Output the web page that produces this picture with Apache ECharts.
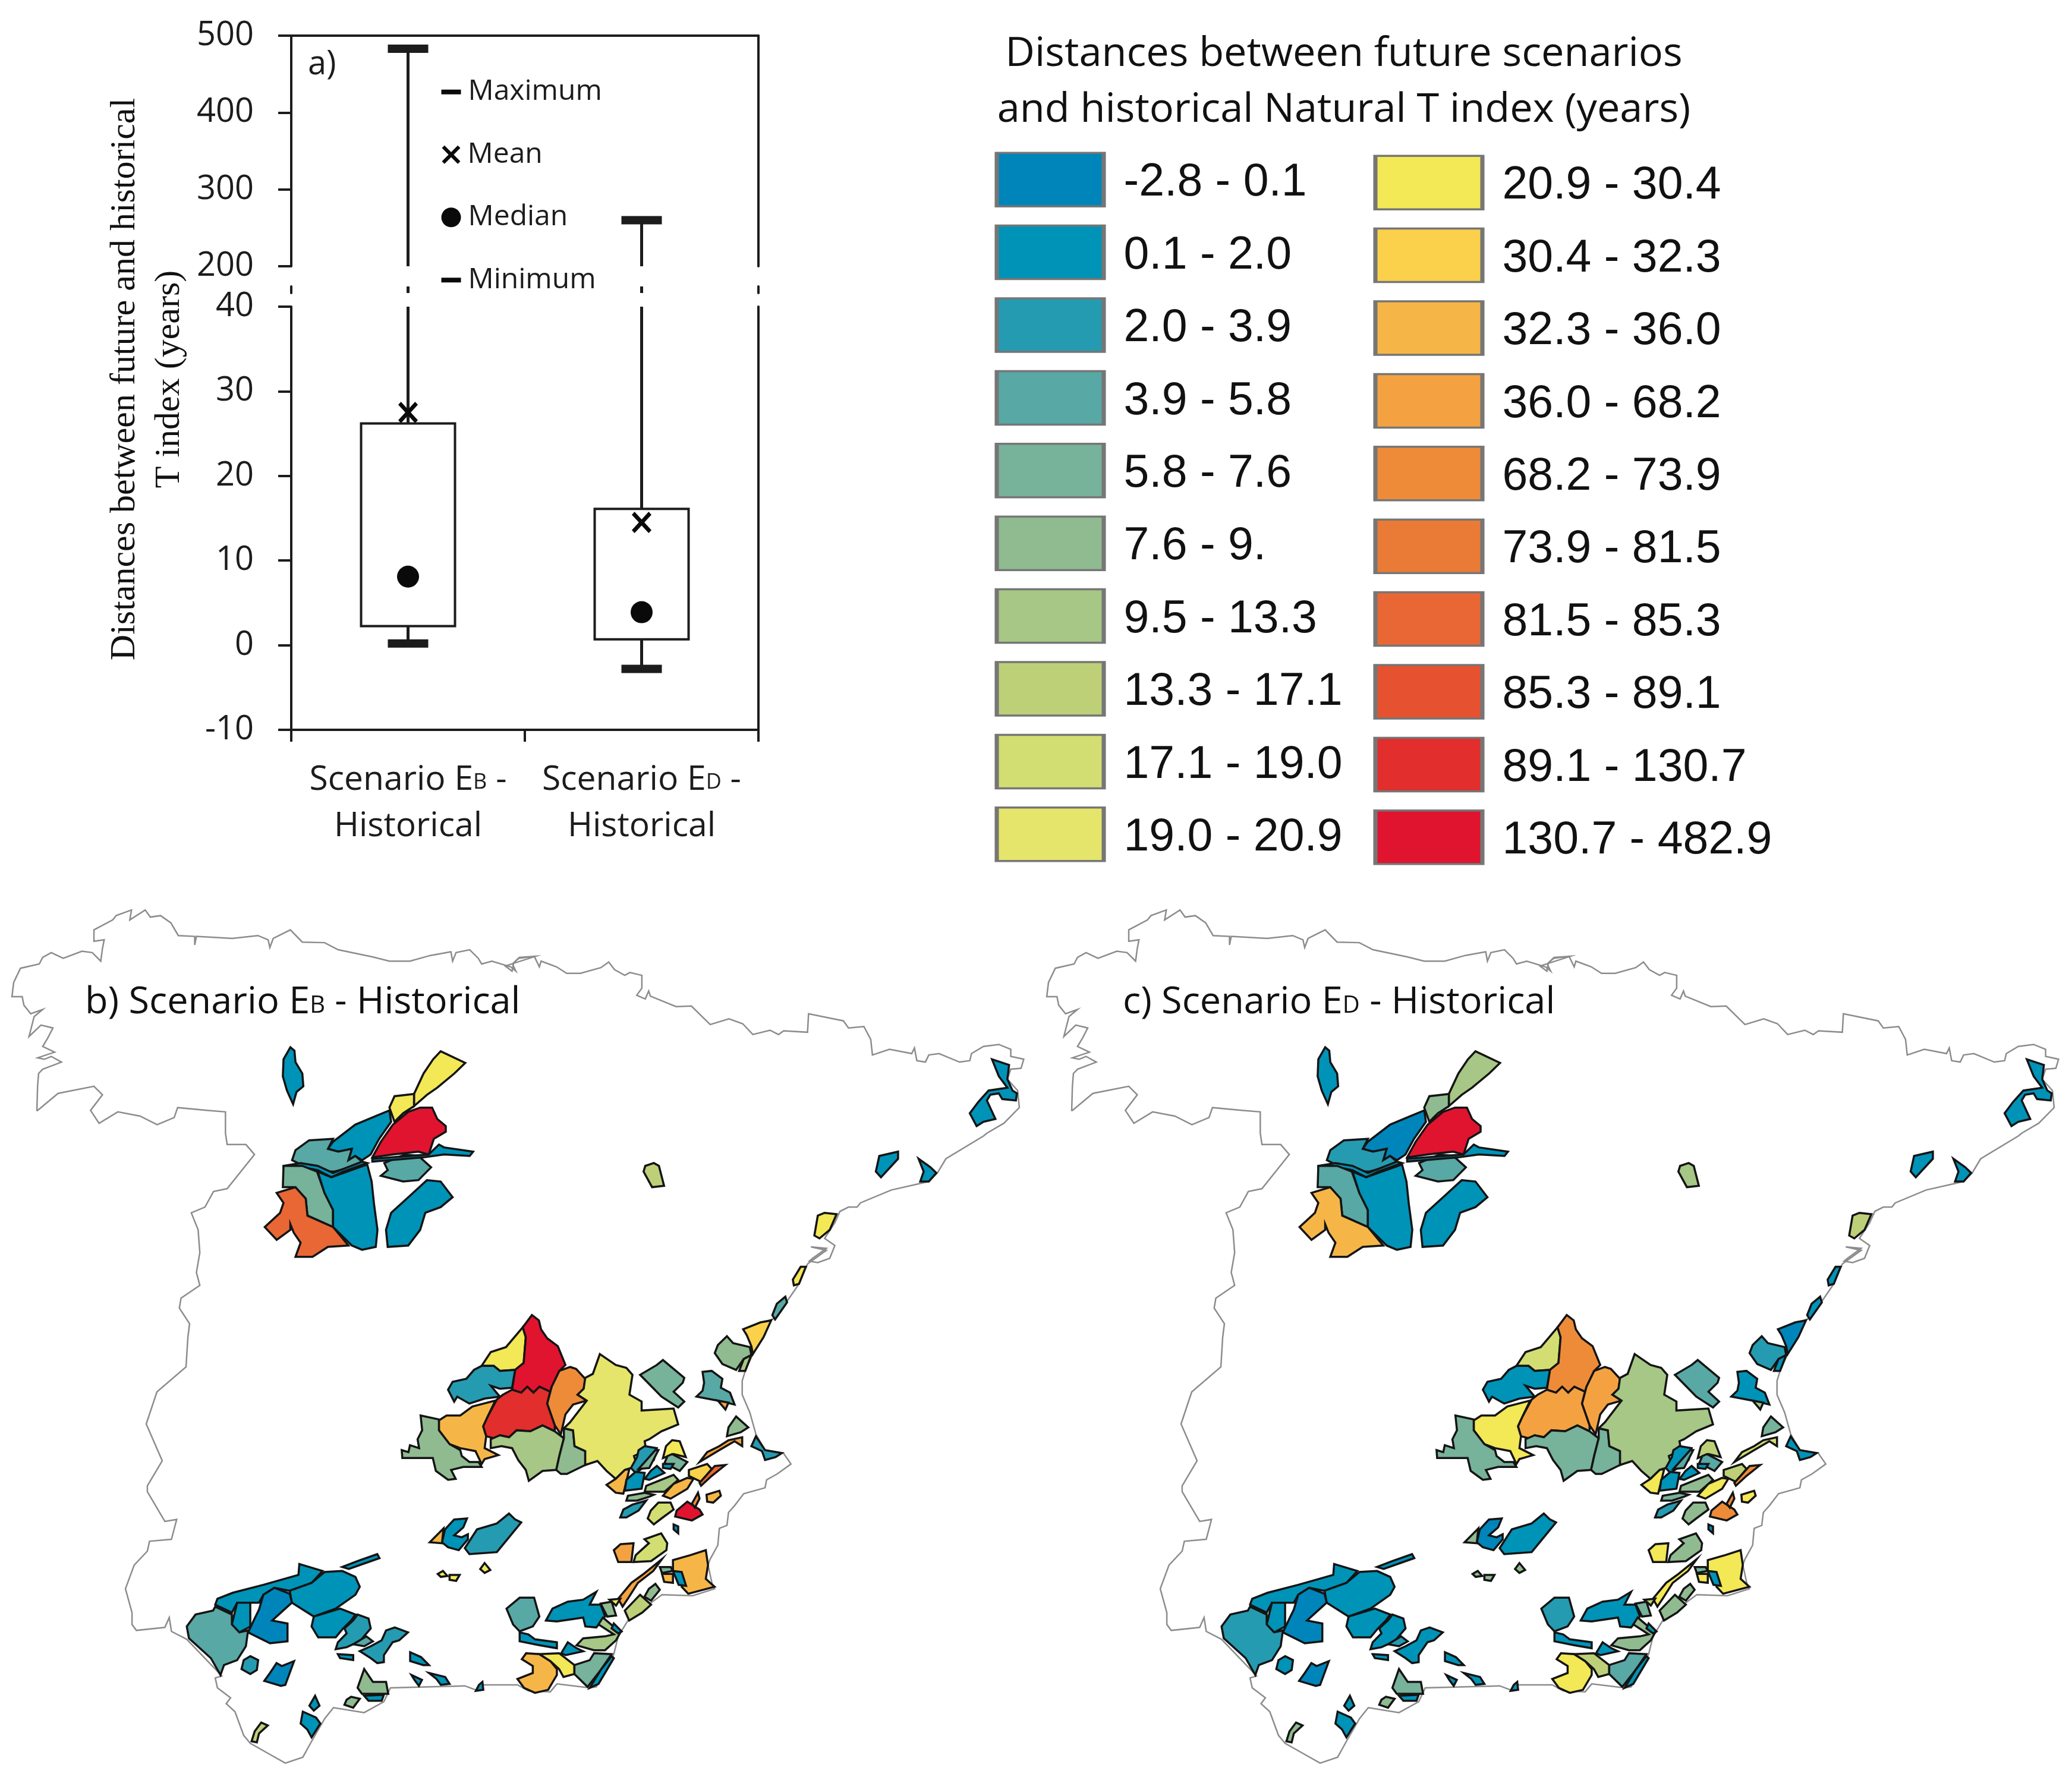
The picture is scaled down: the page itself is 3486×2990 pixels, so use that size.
<!DOCTYPE html>
<html>
<head>
<meta charset="utf-8">
<title>Natural T index distances</title>
<script src="https://cdn.jsdelivr.net/npm/echarts@6/dist/echarts.min.js"></script>
<style>
html, body { margin: 0; background: #fff; }
#main { width: 3486px; height: 2990px; }
</style>
</head>
<body>
<div id="main"></div>
<script>
// box plot values
const scenarios = ['EB', 'ED'];
const maximum = [482.9, 260];
const q3 = [26.2, 16.1];
const mean = [27.5, 14.5];
const median = [8.1, 3.9];
const q1 = [2.25, 0.7];
const minimum = [0.2, -2.8];
const keyNames = ['Maximum', 'Mean', 'Median', 'Minimum'];

// class bins, shared by the swatches and the maps
const binEdges = [-2.8, 0.1, 2.0, 3.9, 5.8, 7.6, 9.5, 13.3, 17.1, 19.0, 20.9, 30.4, 32.3, 36.0, 68.2, 73.9, 81.5, 85.3, 89.1, 130.7, 482.9];
const binLabels = ['-2.8 - 0.1', '0.1 - 2.0', '2.0 - 3.9', '3.9 - 5.8', '5.8 - 7.6', '7.6 - 9.', '9.5 - 13.3', '13.3 - 17.1', '17.1 - 19.0', '19.0 - 20.9',
  '20.9 - 30.4', '30.4 - 32.3', '32.3 - 36.0', '36.0 - 68.2', '68.2 - 73.9', '73.9 - 81.5', '81.5 - 85.3', '85.3 - 89.1', '89.1 - 130.7', '130.7 - 482.9'];
const binColors = ['#0085BB', '#0093B8', '#259BB1', '#58A8A5', '#77B29A', '#90BB90', '#A6C785', '#BDD078', '#D3DE72', '#E4E56A',
  '#F3E855', '#FBD14B', '#F6B647', '#F4A241', '#EE8B39', '#EA7B36', '#E86735', '#E65230', '#E22E2D', '#E0142F'];

// map outlines: frame + "x,y x,y ..."
const frames = { z3: [0, 1500, 1.74, 2.09], z4: [850, 1500, 1.74, 2.09], z5: [600, 2150, 1.95, 3], z6: [200, 2500, 1.357, 3], px: [0, 0, 1, 1] };
const outlineParts = [
  ['z3', '108,770 110,685 113,640 125,625 180,600 150,580 130,590 110,585 160,565 125,545 140,515 155,480 120,470 85,510 100,440 125,415 90,430 70,400 65,370 35,370 40,320 60,270 115,255 125,232 150,215 185,235 240,210 270,215 295,245 300,200 305,170 275,175 275,135 330,100 340,85 385,65 380,100 425,65 440,90 470,85 500,110 522,155 570,158 570,188 575,158 680,165 755,155 785,170 790,197 800,165 850,135 885,178 950,180 990,205 1090,230 1140,245 1200,245 1260,225 1320,212 1325,245 1335,215 1375,205 1400,235 1410,255 1440,245 1495,265 1510,280 1500,255 1520,232 1568,228'],
  ['z4', '0,262 20,280 25,250 40,235 85,228 100,265 105,245 150,265 180,288 220,288 280,268 303,248 320,275 350,295 365,285 400,295 400,340 385,365 410,378 420,350 425,368 500,405 545,403 600,468 655,448 695,465 725,503 775,488 800,503 815,490 885,495 888,430 990,455 1005,480 1050,475 1070,520 1075,575 1125,555 1190,570 1198,550 1205,595 1230,600 1240,575 1270,570 1330,600 1360,595 1365,570 1400,545 1445,538 1480,555 1480,580 1518,590 1510,622 1480,625 1470,660 1500,700 1505,760 1460,815 1410,850 1400,860 1290,940 1265,990 1240,1020 1130,1050 1040,1095 1030,1110 1005,1110 980,1125 965,1165 935,1220 965,1245 950,1290 915,1305 890,1300 900,1290 940,1255 895,1250 940,1262 885,1310 860,1380 820,1450 790,1500 770,1510'],
  ['z5', '1360,215 1300,385 1275,470 1265,520 1265,590 1290,680 1310,790 1340,870 1400,885 1425,940 1380,990 1345,1020 1340,1060 1270,1090 1240,1150 1220,1185 1215,1250 1190,1265 1185,1350 1160,1420'],
  ['z6', '1345,400 1355,500 1360,520 1310,555 1240,550 1215,590 1165,670 1140,760 1130,850 1090,1015 1075,1020 1000,1000 985,1040 935,1035 910,1005 830,1005 820,1035 790,1010 620,1020 605,1090 560,1145 490,1120 470,1175 440,1290 420,1370 380,1400 340,1350 300,1300 285,1260 265,1140 245,1100 255,1070 225,1020 220,970 235,960 155,775 120,735 115,665 105,715 40,730 30,700 30,640 15,520 35,400 65,330 70,280 120,270 132,170 105,180 65,30 65,0'],
  ['px', '273,2458 246,2396 264,2342 313,2300'],
  ['z3', '550,1568 555,1520 525,1465 530,1430 585,1385 575,1340 585,1270 580,1190 560,1130 600,1110 625,1055 665,1045 745,925 720,890 665,890 660,850 660,775 610,770 520,760 510,795 460,820 410,790 345,775 290,815 265,770 300,715 275,685 170,710 110,770']
];
const zoneShapes = [
  ['z3', '850,548 862,560 865,600 885,640 888,685 868,705 858,748 840,700 828,650 830,590'],
  ['z3', '1290,562 1362,603 1330,640 1280,690 1250,715 1212,755 1212,712 1240,640 1268,590'],
  ['z3', '1212,712 1212,755 1180,780 1155,810 1140,760 1155,720'],
  ['z3', '1195,775 1230,760 1265,760 1280,800 1305,825 1305,845 1270,870 1255,925 1225,915 1150,925 1090,935 1115,880 1150,820'],
  ['z3', '1140,770 1145,810 1110,870 1085,925 1060,945 1040,930 1020,945 1030,905 990,915 960,905 975,880 1040,820 1100,790'],
  ['z3', '905,875 975,870 960,905 990,915 1030,905 1020,945 1040,930 1060,950 1040,965 980,985 960,985 930,970 880,960 855,945 865,910'],
  ['z3', '830,965 880,955 930,965 975,990 1060,950 1075,955 1005,985 970,1005 930,980 880,968 830,970'],
  ['z3', '830,965 885,965 928,985 950,1060 975,1120 975,1180 900,1140 895,1080 860,1040 828,1040'],
  ['z3', '930,985 970,1005 1075,960 1088,1020 1095,1100 1105,1190 1100,1250 1060,1260 1030,1245 975,1180 975,1120 950,1060'],
  ['z3', '810,1060 865,1040 895,1080 900,1140 975,1180 1020,1245 960,1250 915,1285 865,1285 880,1235 860,1200 850,1170 850,1190 810,1225 775,1180 820,1130 830,1095'],
  ['z3', '1125,955 1185,925 1225,930 1262,970 1225,1015 1180,1020 1115,1000 1135,980'],
  ['z3', '1255,925 1285,890 1300,900 1385,915 1375,930 1300,925 1240,935 1090,950 1090,940'],
  ['z3', '1250,1015 1290,1020 1325,1075 1290,1110 1245,1130 1230,1190 1195,1245 1135,1250 1130,1190 1145,1130 1200,1070'],
  ['z4', '410,965 435,955 450,965 465,1035 430,1040 405,985'],
  ['z4', '1150,915 1150,940 1100,1005 1085,985 1095,930'],
  ['z4', '1210,940 1245,970 1262,990 1240,1020 1215,1020 1225,985'],
  ['z4', '1425,590 1475,610 1470,660 1485,700 1498,710 1495,735 1455,730 1445,710 1420,715 1410,735 1435,800 1400,810 1380,825 1360,780 1385,740 1415,700 1470,690 1445,650'],
  ['z4', '915,1140 935,1130 970,1135 950,1190 920,1220 905,1210'],
  ['z4', '865,1320 880,1320 860,1380 845,1385 842,1365'],
  ['z4', '820,1425 825,1445 790,1505 782,1490 795,1450'],
  ['z5', '545,250 555,300 548,430 520,465 470,470 450,445 410,445 440,375 490,350'],
  ['z5', '575,188 598,215 605,260 625,305 660,345 685,440 665,470 640,550 635,575 600,550 580,580 560,550 540,580 510,565 520,465 548,430 555,300 545,250'],
  ['z5', '410,445 450,445 470,470 520,465 510,555 470,560 440,545 470,600 420,610 370,635 330,600 320,625 300,565 315,525 360,510 385,465'],
  ['z5', '700,450 720,460 750,510 745,560 725,590 755,620 710,640 685,690 670,790 650,745 625,635 640,550 665,470'],
  ['z5', '510,565 540,580 560,550 580,580 600,550 635,575 625,635 650,745 650,775 610,745 570,775 525,770 500,805 470,795 450,810 425,800 415,750 430,700 460,615 480,590'],
  ['z5', '455,620 430,700 415,750 425,800 420,860 465,895 420,915 410,940 390,875 340,860 305,840 270,770 270,720 295,695 340,695 380,650'],
  ['z5', '210,695 270,715 270,770 305,840 340,870 345,900 370,930 400,930 410,955 350,955 310,970 325,1015 300,1020 260,975 250,910 150,910 148,870 170,880 175,845 205,860 200,815 215,770'],
  ['z5', '440,815 470,795 500,805 525,770 570,775 610,745 650,775 680,810 665,900 655,970 610,975 565,1025 555,970 530,920 510,860 475,850 440,860'],
  ['z5', '680,760 710,770 715,850 750,875 750,945 690,990 670,990 655,970 665,900 680,810'],
  ['z5', '798,385 850,440 885,455 905,490 895,590 935,625 935,670 1040,660 1055,740 1000,775 960,815 945,825 950,870 910,900 920,950 880,970 850,1015 820,975 790,925 750,945 750,875 715,850 710,770 680,760 700,730 755,620 725,590 745,560 750,505 775,485'],
  ['z5', '1005,415 1075,505 1070,530 1040,575 1075,625 1055,655 1000,600 975,560 930,490 985,440'],
  ['z5', '1135,475 1165,470 1200,510 1195,555 1225,580 1240,640 1185,620 1115,600 1135,570 1140,530'],
  ['z5', '1185,620 1220,630 1210,665'],
  ['z5', '1268,260 1325,225 1360,215 1335,300 1300,385 1295,345 1280,290'],
  ['z5', '1215,295 1235,330 1290,350 1295,390 1270,410 1245,465 1200,435 1175,380 1185,340'],
  ['z5', '1295,390 1275,470 1255,470 1270,410'],
  ['z5', '1245,700 1285,755 1260,780 1215,800 1220,755'],
  ['z5', '1310,800 1340,870 1395,885 1375,905 1340,920 1330,875 1295,850'],
  ['z5', '1265,805 1265,850 1240,825 1190,870 1125,930 1150,880 1190,850 1220,820'],
  ['z5', '945,850 985,860 975,920 950,950 915,985 900,960 920,905 925,870'],
  ['z5', '980,870 990,870 960,960 925,965'],
  ['z5', '880,970 895,965 875,1090 850,1085 820,1045 850,1015'],
  ['z5', '915,980 945,985 935,1065 880,1075 885,1020'],
  ['z5', '985,950 1010,985 960,1020 945,1015 965,975'],
  ['z5', '1035,820 1060,825 1080,905 1040,890 1005,910 1015,850'],
  ['z5', '1035,890 1085,930 1060,975 1010,935 1020,900'],
  ['z5', '1005,940 1040,940 1030,965 1005,960'],
  ['z5', '1090,970 1150,940 1165,965 1130,1030 1090,1000'],
  ['z5', '1210,945 1165,1000 1130,1050 1125,1035 1175,950'],
  ['z5', '1040,995 1055,1020 1010,1080 945,1080 950,1050'],
  ['z5', '1085,1010 1105,1015 1085,1065 1030,1115 1005,1100 1040,1040'],
  ['z5', '945,1085 975,1095 960,1105 920,1125 885,1125 890,1100'],
  ['z5', '950,1125 925,1175 885,1210 865,1210 875,1170 905,1145'],
  ['z5', '990,1135 1030,1135 1040,1170 1000,1215 975,1245 955,1215 965,1175'],
  ['z5', '1085,1130 1125,1170 1135,1195 1100,1225 1045,1205 1050,1175'],
  ['z5', '1120,1085 1125,1115 1110,1160 1100,1140'],
  ['z5', '1190,1075 1195,1100 1170,1135 1150,1130 1148,1095'],
  ['z5', '1040,1245 1055,1255 1055,1290 1040,1270'],
  ['z5', '320,1220 362,1215 350,1260 320,1300 345,1310 365,1295 365,1320 335,1375 300,1360 280,1335 290,1270'],
  ['z5', '285,1265 280,1340 240,1335'],
  ['z5', '500,1190 520,1220 540,1235 500,1310 460,1385 370,1395 355,1365 395,1270 460,1240'],
  ['z6', '835,390 848,425 835,440 825,420'],
  ['z6', '740,430 750,455 735,460 728,445'],
  ['z6', '755,450 778,450 770,480 755,475'],
  ['z6', '412,395 465,430 440,490 390,530 355,515 330,550 320,590 300,590 270,590 258,640 220,600 225,570 260,540 330,500 410,450'],
  ['z6', '590,345 595,365 525,420 510,410 545,380'],
  ['z6', '470,435 510,430 540,460 550,510 540,550 495,620 445,660 395,590 390,530 440,490'],
  ['z6', '355,515 390,545 395,590 350,680 385,695 385,785 345,795 295,740 310,670 320,625 330,550'],
  ['z6', '270,590 300,590 300,710 275,740 258,700'],
  ['z6', '220,610 258,650 258,700 275,740 295,730 290,810 270,880 240,905 232,955 210,870 160,770 155,710 175,650 215,630'],
  ['z6', '505,620 540,650 530,680 510,725 495,765 455,765 440,710 445,660'],
  ['z6', '545,650 570,670 575,720 550,785 520,815 495,825 500,790 520,745 515,720 535,680'],
  ['z6', '565,760 580,785 560,810 535,800'],
  ['z6', '630,715 660,740 640,780 625,790 605,855 605,890 590,895 575,870 550,835 575,810 600,780 610,730'],
  ['z6', '300,860 318,880 315,930 300,950 280,925 285,880'],
  ['z6', '400,885 380,1005 370,1010 332,985 345,945 360,895 372,910'],
  ['z6', '665,840 690,865 708,905 695,905 665,885'],
  ['z6', '500,850 535,855 535,880 505,870'],
  ['z6', '708,945 745,965 755,1000 735,1005 725,975'],
  ['z6', '668,955 692,980 685,1010 675,980'],
  ['z6', '830,990 832,1030 815,1035 822,1005'],
  ['z6', '560,925 580,990 610,990 615,1050 555,1050 545,1020'],
  ['z6', '560,1060 605,1055 600,1085 570,1085'],
  ['z6', '530,1065 550,1075 535,1120 515,1105 520,1080'],
  ['z6', '448,1060 458,1110 445,1135 435,1110'],
  ['z6', '420,1140 450,1170 460,1200 440,1270 430,1230 415,1200'],
  ['z6', '325,1195 340,1210 320,1250 315,1295 303,1290 310,1240'],
  ['z6', '915,565 948,565 960,660 945,710 915,735 900,700 885,620'],
  ['z6', '915,740 935,750 950,775 1000,790 1000,820 960,805 915,785'],
  ['z6', '1025,585 1060,575 1090,535 1075,600 1100,600 1110,660 1090,715 1065,710 1060,665 1000,685 975,680 990,620'],
  ['z6', '1100,595 1125,585 1135,655 1115,660'],
  ['z6', '1105,665 1145,740 1135,780 1110,830 1085,830 1045,805 1060,770 1110,760 1130,750 1095,700'],
  ['z6', '1130,695 1148,735 1140,745 1125,720'],
  ['z6', '1025,790 1045,820 1060,835 1020,855 1010,845'],
  ['z6', '930,845 960,850 985,885 1000,925 1000,955 980,1030 950,1045 925,1020 910,975 945,945 945,910 920,875'],
  ['z6', '960,850 1005,845 1040,905 1040,950 1015,965 1005,925 985,885'],
  ['z6', '1040,905 1075,880 1085,845 1125,850 1100,930 1070,1015 1040,950'],
  ['z6', '1125,860 1130,870 1095,1000 1075,1020 1100,930'],
  ['z6', '1238,240 1252,290 1250,325 1215,380 1175,385 1180,350 1210,290 1200,270'],
  ['z6', '1145,295 1175,290 1170,385 1140,385 1130,325'],
  ['z6', '1340,325 1345,400 1340,470 1360,510 1300,545 1285,510 1290,475 1265,430 1265,375 1305,350'],
  ['z6', '1240,370 1220,430 1185,490 1165,560 1150,610 1140,570 1170,490 1195,450'],
  ['z6', '1235,410 1260,410 1265,430 1240,440'],
  ['z6', '1265,430 1285,435 1295,505 1278,500'],
  ['z6', '1240,445 1265,445 1265,490 1245,485'],
  ['z6', '1225,495 1235,525 1215,580 1200,560 1210,520'],
  ['z6', '1190,550 1215,600 1195,640 1165,680 1155,630'],
  ['z6', '1120,575 1145,570 1135,605']
];
const zoneValuesB = [1, 25, 25, 200, 1, 5, 1, 7, 1, 83, 5, 1, 1, 15, 1, 1, 1, 25, 25, 5,
  25, 200, 3, 70, 100, 34, 8, 10, 8, 20, 7, 5, 50, 31, 8, 10, 8, 3, 50, 3, 7, 34, 1, 1, 25, 7, 1, 31, 83, 10, 34, 8, 3, 18, 200, 70, 34, -1, 1, 34, 3,
  25, 25, 25, 1, 1, 1, -1, 1, 5, 1, 3, 5, 3, 3, -1, 1, 1, 1, 1, 1, 8, 1, 8, 1, 1, 15, 5, 1, 1, 8, 10, 1, 1, 34, 25, 7, 1, 18, 50, 34, 50, 7, 1, 34, 8, 15, 25];
const zoneValuesC = [1, 10, 8, 200, -1, 3, 1, 5, 1, 34, 5, 1, 1, 10, 1, 1, 1, 15, 1, 1,
  18, 70, 1, 50, 50, 25, 7, 7, 7, 10, 5, 1, 10, -1, 3, 1, 7, 1, 18, 1, 5, 25, 1, 1, 15, 5, 1, 15, 70, 8, 25, 7, 3, 8, 70, 70, 25, -1, -1, 8, 1,
  8, 8, 8, 1, 1, 1, -1, 1, 3, 1, 1, 3, 1, 1, -1, 1, 1, 1, 1, 1, 7, 1, 8, 1, 1, 8, 3, 1, 1, 7, 8, 1, 1, 25, 15, 5, 1, 8, 25, 25, 25, 7, 1, 25, 8, 8, 15];

const tickFont = 'Open Sans';
const inkColor = '#1c1c1c';
const mapOffset = 1741;

const crossSymbol = 'path://M14,0 L50,36 86,0 100,14 64,50 100,86 86,100 50,64 14,100 0,86 36,50 0,14Z';

// turn traced points into picture pixels, y negated because map regions are y-up
function toPoints(frame, text) {
  const [ox, oy, sx, sy] = frames[frame];
  return text.trim().split(/\s+/).map(p => {
    const [x, y] = p.split(',').map(Number);
    return [ox + x / sx, -(oy + y / sy)];
  });
}
function closeRing(ring) {
  return ring.concat([ring[0]]);
}

const outlineRing = closeRing(outlineParts.flatMap(([f, t]) => toPoints(f, t)));
const zoneRings = zoneShapes.map(([f, t]) => closeRing(toPoints(f, t)));
const zoneNames = zoneShapes.map((s, i) => 'zone' + i);

const feature = (name, ring) => ({
  type: 'Feature',
  properties: { name },
  geometry: { type: 'Polygon', coordinates: [ring] }
});
const iberiaFeatures = {
  type: 'FeatureCollection',
  features: [feature('Iberia', outlineRing)].concat(zoneRings.map((r, i) => feature(zoneNames[i], r)))
};
// two names: map series sharing one map get merged by ECharts
echarts.registerMap('iberiaEB', iberiaFeatures);
echarts.registerMap('iberiaED', iberiaFeatures);

const allPoints = outlineRing.concat(zoneRings.flat());
const mapLeft = Math.min(...allPoints.map(p => p[0]));
const mapRight = Math.max(...allPoints.map(p => p[0]));
const mapTop = Math.min(...allPoints.map(p => -p[1]));
const mapBottom = Math.max(...allPoints.map(p => -p[1]));

function mapSeries(mapName, values, shift) {
  return {
    type: 'map',
    map: mapName,
    silent: true,
    roam: false,
    aspectScale: 1,
    left: mapLeft + shift,
    top: mapTop,
    width: mapRight - mapLeft,
    height: mapBottom - mapTop,
    label: { show: false },
    itemStyle: { areaColor: '#fff', borderColor: '#141414', borderWidth: 3.5 },
    data: [{
      name: 'Iberia',
      value: NaN,
      itemStyle: { areaColor: '#fff', borderColor: '#8c8c8c', borderWidth: 2.5 }
    }].concat(zoneNames.map((name, i) => ({ name, value: values[i] })))
  };
}

// box + whiskers, clipped by whichever piece of the broken axis it sits on
function renderBox(params, api) {
  const idx = api.value(0);
  const cx = api.coord([idx, 0])[0];
  const y = i => api.coord([idx, api.value(i)])[1];
  const boxW = 158;
  const stroke = { stroke: inkColor, lineWidth: 5 };
  const children = [
    { type: 'line', shape: { x1: cx, y1: y(3), x2: cx, y2: y(4) }, style: stroke },
    { type: 'line', shape: { x1: cx, y1: y(2), x2: cx, y2: y(1) }, style: stroke }
  ];
  const rect = params.coordSys;
  // the box only exists on the lower piece of the axis
  if (y(3) >= rect.y && y(2) <= rect.y + rect.height) {
    children.push({
      type: 'rect',
      shape: { x: cx - boxW / 2, y: y(3), width: boxW, height: y(2) - y(3) },
      style: { fill: '#fff', stroke: inkColor, lineWidth: 4 }
    });
  }
  return { type: 'group', children };
}
const boxData = scenarios.map((s, i) => [i, minimum[i], q1[i], q3[i], maximum[i]]);
const boxSeries = (xAxisIndex, yAxisIndex) => ({
  type: 'custom',
  xAxisIndex,
  yAxisIndex,
  clip: true,
  silent: true,
  renderItem: renderBox,
  encode: { x: 0, y: [1, 2, 3, 4] },
  data: boxData
});
const capSeries = (xAxisIndex, yAxisIndex, values) => ({
  type: 'scatter',
  xAxisIndex,
  yAxisIndex,
  clip: false,
  silent: true,
  symbol: 'rect',
  symbolSize: [68, 14],
  itemStyle: { color: inkColor, opacity: 1 },
  data: values.map((v, i) => [i, v])
});

const plotLeft = 490;
const plotWidth = 786;
const lineStyle = { color: inkColor, width: 4 };

function plotYAxis(gridIndex, min, max, interval, withLabels) {
  return {
    type: 'value',
    gridIndex,
    min,
    max,
    interval,
    position: withLabels ? 'left' : 'right',
    splitLine: { show: false },
    axisLine: { show: true, lineStyle },
    axisTick: { show: withLabels, length: 22, lineStyle },
    axisLabel: { show: withLabels, margin: 63, fontFamily: tickFont, fontSize: 56, color: inkColor }
  };
}
function hiddenY(gridIndex, data) {
  return {
    type: 'category',
    gridIndex,
    inverse: true,
    data,
    axisLine: { show: false },
    axisTick: { show: false },
    axisLabel: { show: false },
    splitLine: { show: false }
  };
}
function hiddenX(gridIndex) {
  return {
    type: 'category',
    gridIndex,
    data: ['x'],
    axisLine: { show: false },
    axisTick: { show: false },
    axisLabel: { show: false },
    splitLine: { show: false }
  };
}
function swatchSeries(xAxisIndex, yAxisIndex, labels, colors) {
  return {
    type: 'scatter',
    xAxisIndex,
    yAxisIndex,
    silent: true,
    symbol: 'rect',
    symbolSize: [180, 90],
    data: labels.map((name, i) => ({
      value: ['x', i],
      itemStyle: { color: colors[i], opacity: 1, borderColor: '#767676', borderWidth: 5 },
      label: { formatter: name }
    })),
    label: {
      show: true,
      position: 'right',
      distance: 30,
      offset: [0, 6],
      fontFamily: 'Liberation Sans',
      fontSize: 77,
      color: '#111'
    }
  };
}
function mapTitle(left, text) {
  return {
    text,
    left,
    top: 1656,
    padding: 0,
    textStyle: {
      rich: {
        m: { fontFamily: tickFont, fontWeight: 'normal', fontSize: 63, color: '#111' },
        s: { fontFamily: tickFont, fontWeight: 'normal', fontSize: 40, color: '#111', padding: [10, 0, 0, 0] }
      }
    }
  };
}
const subscriptRich = {
  m: { fontFamily: tickFont, fontSize: 57, color: inkColor, lineHeight: 78 },
  s: { fontFamily: tickFont, fontSize: 36, color: inkColor, lineHeight: 78, padding: [8, 0, 0, 0] }
};

const keySymbols = [
  { symbol: 'rect', symbolSize: [33, 8] },
  { symbol: crossSymbol, symbolSize: [31, 31] },
  { symbol: 'circle', symbolSize: [33, 33] },
  { symbol: 'rect', symbolSize: [33, 8] }
];

const option = {
  animation: false,
  backgroundColor: '#fff',
  title: [
    { text: 'a)', left: 513, top: 76, textStyle: { fontFamily: tickFont, fontSize: 56, fontWeight: 'normal', color: inkColor } },
    {
      text: 'Distances between future scenarios\nand historical Natural T index (years)',
      left: 2256,
      top: 39,
      textAlign: 'center',
      textStyle: { fontFamily: tickFont, fontSize: 68.5, fontWeight: 'normal', color: '#111', lineHeight: 94 }
    },
    mapTitle(143, '{m|b) Scenario E}{s|B}{m| - Historical}'),
    mapTitle(1889, '{m|c) Scenario E}{s|D}{m| - Historical}')
  ],
  graphic: [{
    type: 'text',
    x: 248,
    y: 638,
    rotation: Math.PI / 2,
    style: {
      text: 'Distances between future and historical\nT index (years)',
      fontFamily: 'Liberation Serif',
      fontSize: 60,
      lineHeight: 75,
      align: 'center',
      verticalAlign: 'middle',
      fill: '#111'
    }
  }],
  grid: [
    { left: plotLeft, top: 60, width: plotWidth, height: 388 },
    { left: plotLeft, top: 482, width: plotWidth, height: 11 },
    { left: plotLeft, top: 516, width: plotWidth, height: 712 },
    { left: 1677, top: 241, width: 180, height: 1224 },
    { left: 2314, top: 246, width: 180, height: 1224 },
    { left: 739, top: 102, width: 40, height: 422 }
  ],
  xAxis: [
    {
      type: 'category', gridIndex: 0, data: scenarios, position: 'top',
      axisLine: { show: true, lineStyle }, axisTick: { show: false }, axisLabel: { show: false }
    },
    {
      type: 'category', gridIndex: 1, data: scenarios,
      axisLine: { show: false }, axisTick: { show: false }, axisLabel: { show: false }
    },
    {
      type: 'category', gridIndex: 2, data: scenarios,
      axisLine: { show: true, onZero: false, lineStyle },
      axisTick: { show: true, length: 20, lineStyle },
      axisLabel: {
        margin: 46,
        formatter: v => `{m|Scenario E}{s|${v.charAt(1)}}{m| -}\n{m|Historical}`,
        rich: subscriptRich
      }
    },
    hiddenX(3),
    hiddenX(4),
    hiddenX(5)
  ],
  yAxis: [
    plotYAxis(0, 200, 500, 100, true),
    plotYAxis(0, 200, 500, 100, false),
    Object.assign(plotYAxis(1, 40, 200, 160, false), { position: 'left' }),
    plotYAxis(1, 40, 200, 160, false),
    plotYAxis(2, -10, 40, 10, true),
    plotYAxis(2, -10, 40, 10, false),
    hiddenY(3, binLabels.slice(0, 10)),
    hiddenY(4, binLabels.slice(10)),
    hiddenY(5, keyNames)
  ],
  visualMap: {
    type: 'piecewise',
    show: false,
    seriesIndex: [0, 1],
    pieces: binColors.map((color, i) => ({ min: binEdges[i], max: binEdges[i + 1], color }))
  },
  series: [
    mapSeries('iberiaEB', zoneValuesB, 0),
    mapSeries('iberiaED', zoneValuesC, mapOffset),
    boxSeries(0, 0),
    boxSeries(1, 2),
    boxSeries(2, 4),
    capSeries(0, 0, maximum),
    capSeries(2, 4, minimum),
    {
      type: 'scatter', xAxisIndex: 2, yAxisIndex: 4, silent: true,
      symbol: crossSymbol, symbolSize: [33, 36], itemStyle: { color: '#0a0a0a', opacity: 1 },
      data: mean.map((v, i) => [i, v])
    },
    {
      type: 'scatter', xAxisIndex: 2, yAxisIndex: 4, silent: true,
      symbol: 'circle', symbolSize: 37, itemStyle: { color: '#0a0a0a', opacity: 1 },
      data: median.map((v, i) => [i, v])
    },
    swatchSeries(3, 6, binLabels.slice(0, 10), binColors.slice(0, 10)),
    swatchSeries(4, 7, binLabels.slice(10), binColors.slice(10)),
    {
      type: 'scatter', xAxisIndex: 5, yAxisIndex: 8, silent: true,
      itemStyle: { color: '#0a0a0a', opacity: 1 },
      label: { show: true, position: 'right', distance: 12, fontFamily: tickFont, fontSize: 48, color: inkColor },
      data: keyNames.map((name, i) => Object.assign({
        value: ['x', i],
        label: { formatter: name }
      }, keySymbols[i]))
    }
  ]
};

const myChart = echarts.init(document.getElementById('main'));
myChart.setOption(option);
</script>
</body>
</html>
